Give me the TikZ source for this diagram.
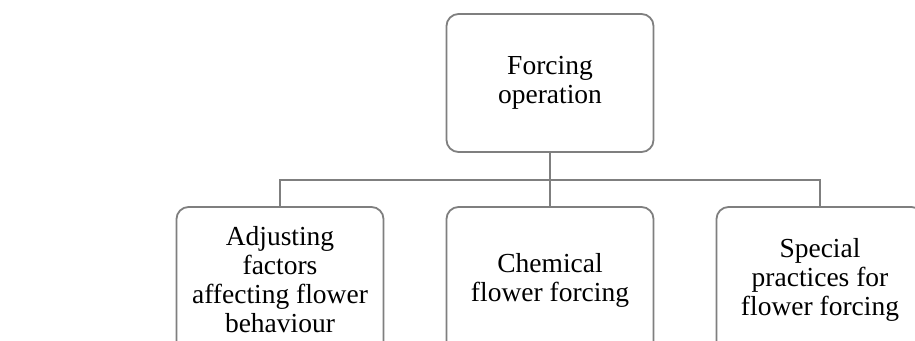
\documentclass[tikz,border=0pt]{standalone}
\usepackage{fontspec}
\setmainfont{Liberation Serif}
\usepackage{xcolor}
\usepackage{tikz}
\usetikzlibrary{backgrounds}

\definecolor{boxgray}{HTML}{7F7F7F}

\tikzset{
  itembox/.style={draw=boxgray,line width=1.8pt,rounded corners=12pt,fill=white,
    minimum width=207pt,align=center,inner sep=2pt},
  link/.style={draw=boxgray,line width=1.6pt}
}

\begin{document}
\begin{tikzpicture}[x=1pt,y=-1pt,font=\fontsize{27.5}{29}\selectfont]
\useasboundingbox (0,0) rectangle (915,340);
% Root
\node[itembox,minimum height=138pt] (root) at (550,83) {Forcing\\operation};

% Branches
\node[itembox,minimum height=146pt] (adjust) at (280,280) {Adjusting\\factors\\affecting flower\\behaviour};
\node[itembox,minimum height=146pt] (chem) at (550,280) {Chemical\\flower forcing};
\node[itembox,minimum height=146pt] (special) at (820,280) {Special\\practices for\\flower forcing};

% Connectors
\coordinate (bus) at (550,180);
\draw[link] (root.south) -- (chem.north);
\draw[link] (bus) -| (adjust.north);
\draw[link] (bus) -| (special.north);
\end{tikzpicture}
\end{document}
